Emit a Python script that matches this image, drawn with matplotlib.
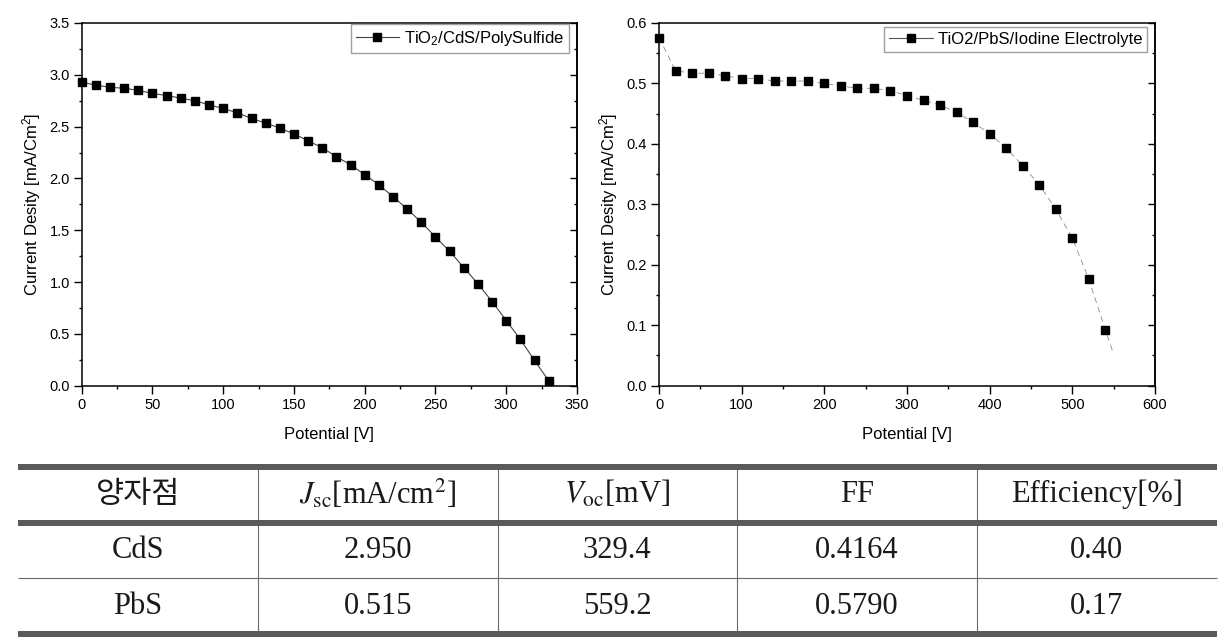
import matplotlib
matplotlib.use('Agg')
import matplotlib.pyplot as plt
from matplotlib.ticker import MultipleLocator
from matplotlib.lines import Line2D

plt.rcParams['font.family'] = ['Liberation Sans', 'DejaVu Sans']
plt.rcParams['mathtext.fontset'] = 'custom'
plt.rcParams['mathtext.rm'] = 'Liberation Sans'
plt.rcParams['mathtext.it'] = 'Liberation Sans:italic'
plt.rcParams['mathtext.bf'] = 'Liberation Sans:bold'

# ---------------- data ----------------
cds_v = [0, 10, 20, 30, 40, 50, 60, 70, 80, 90, 100, 110, 120, 130, 140, 150, 160,
         170, 180, 190, 200, 210, 220, 230, 240, 250, 260, 270, 280, 290, 300, 310, 320, 330]
cds_j = [2.929, 2.90, 2.88, 2.87, 2.85, 2.82, 2.80, 2.775, 2.75, 2.71, 2.675, 2.633,
         2.58, 2.534, 2.486, 2.43, 2.363, 2.296, 2.21, 2.132, 2.036, 1.94, 1.824, 1.705,
         1.577, 1.435, 1.297, 1.14, 0.983, 0.812, 0.629, 0.446, 0.244, 0.048]

pbs_v = [0, 20, 40, 60, 80, 100, 120, 140, 160, 180, 200, 220, 240, 260, 280, 300,
         320, 340, 360, 380, 400, 420, 440, 460, 480, 500, 520, 540]
pbs_j = [0.576, 0.521, 0.517, 0.517, 0.5125, 0.508, 0.508, 0.504, 0.504, 0.504, 0.500,
         0.496, 0.492, 0.492, 0.488, 0.480, 0.472, 0.4646, 0.452, 0.436, 0.4167, 0.393,
         0.364, 0.3325, 0.292, 0.244, 0.176, 0.092]
# fitted curve continues slightly past the last measured point
pbs_fit_v = pbs_v + [550]
pbs_fit_j = pbs_j + [0.052]

cds_label = r'TiO$_2$/CdS/PolySulfide'
pbs_label = 'TiO2/PbS/Iodine Electrolyte'
x_label = 'Potential [V]'
y_label = r'Current Desity [mA/Cm$^2$]'

table_headers = ['양자점', r'$J_{\mathrm{sc}}$[mA/cm$^{2}$]', r'$V_{\mathrm{oc}}$[mV]',
                 'FF', 'Efficiency[%]']
row_names = ['CdS', 'PbS']
jsc_vals = ['2.950', '0.515']
voc_vals = ['329.4', '559.2']
ff_vals = ['0.4164', '0.5790']
eff_vals = ['0.40', '0.17']

# ---------------- figure ----------------
W, H = 1229, 644
fig = plt.figure(figsize=(W / 100, H / 100), dpi=100)


def px_axes(x0, y0, x1, y1):
    return fig.add_axes([x0 / W, 1 - y1 / H, (x1 - x0) / W, (y1 - y0) / H])


def style(ax, xmax, xmaj, xmin, ymax, ymaj, ymin, yfmt):
    ax.set_xlim(0, xmax)
    ax.set_ylim(0, ymax)
    ax.xaxis.set_major_locator(MultipleLocator(xmaj))
    ax.xaxis.set_minor_locator(MultipleLocator(xmin))
    ax.yaxis.set_major_locator(MultipleLocator(ymaj))
    ax.yaxis.set_minor_locator(MultipleLocator(ymin))
    ax.yaxis.set_major_formatter(plt.FormatStrFormatter(yfmt))
    ax.tick_params(which='both', direction='out', top=False, right=False,
                   labelsize=10.5, width=1.0, pad=3)
    ax.tick_params(which='major', length=5.5)
    ax.tick_params(which='minor', length=2.5)
    for s in ax.spines.values():
        s.set_linewidth(1.1)
    sec = ax.secondary_yaxis('right')
    sec.yaxis.set_major_locator(MultipleLocator(ymaj))
    sec.yaxis.set_minor_locator(MultipleLocator(ymin))
    sec.tick_params(which='both', direction='in', labelright=False, width=1.0)
    sec.tick_params(which='major', length=5.0)
    sec.tick_params(which='minor', length=2.5)
    sec.spines['right'].set_linewidth(1.1)
    ax.set_xlabel(x_label, fontsize=12, labelpad=11)
    ax.set_ylabel(y_label, fontsize=12, labelpad=4.5)


# left panel
ax1 = px_axes(81.7, 23, 577, 385.7)
ax1.plot(cds_v, cds_j, color='#444444', lw=0.8, marker='s', ms=5.3,
         mfc='black', mec='black', label=cds_label, clip_on=False, zorder=3)
style(ax1, 350, 50, 25, 3.5, 0.5, 0.25, '%.1f')
leg1 = ax1.legend(loc='upper right', bbox_to_anchor=(0.984, 0.997), borderaxespad=0,
                  fontsize=12, frameon=True, fancybox=False, numpoints=1,
                  handlelength=2.6, handletextpad=0.3, borderpad=0.3)
leg1.get_frame().set_edgecolor('#888888')
leg1.get_frame().set_linewidth(1.0)

# right panel
ax2 = px_axes(659, 23, 1155, 385.7)
ax2.plot(pbs_fit_v, pbs_fit_j, color='#8a8a8a', lw=0.6, ls=(0, (7, 5)), zorder=2)
ax2.plot(pbs_v, pbs_j, ls='none', marker='s', ms=5.3, mfc='black', mec='black',
         clip_on=False, zorder=3)
style(ax2, 600, 100, 50, 0.6, 0.1, 0.05, '%.1f')
h2 = Line2D([], [], color='#555555', lw=0.8, marker='s', ms=5.3, mfc='black', mec='black')
leg2 = ax2.legend([h2], [pbs_label], loc='upper right', bbox_to_anchor=(0.984, 0.99),
                  borderaxespad=0, fontsize=12, frameon=True, fancybox=False,
                  numpoints=1, handlelength=2.6, handletextpad=0.3, borderpad=0.3)
leg2.get_frame().set_edgecolor('#888888')
leg2.get_frame().set_linewidth(1.0)

# ---------------- table ----------------
tax = fig.add_axes([0, 0, 1, 1], zorder=-1)
tax.set_xlim(0, W)
tax.set_ylim(H, 0)
tax.axis('off')

tx0, tx1 = 17.7, 1216.7
col_edges = [tx0, 258.3, 497.5, 737.0, 976.7, tx1]
y_top, y_head, y_mid, y_bot = 467.0, 522.5, 578.3, 633.5
thick = 6 * 0.72
thin_c = '#6a6a6a'
thick_c = '#5a5a5a'

for y in (y_top, y_head, y_bot):
    tax.hlines(y, tx0, tx1, colors=thick_c, lw=thick, zorder=3)
tax.hlines(y_mid, tx0, tx1, colors=thin_c, lw=0.8, zorder=2)
for x in col_edges[1:-1]:
    tax.vlines(x, y_top, y_bot, colors=thin_c, lw=0.8, zorder=2)

centers = [(col_edges[i] + col_edges[i + 1]) / 2 for i in range(5)]
row_y = [494.5, 550.5, 606.0]
tcolor = '#1a1a1a'
serif = ['Liberation Serif', 'DejaVu Serif']

for i, h in enumerate(table_headers):
    if i == 0:
        tax.text(centers[i], row_y[0], h, ha='center', va='center', fontsize=22,
                 family=['Noto Sans CJK KR', 'DejaVu Sans'], color=tcolor,
                 fontweight='light')
    else:
        tax.text(centers[i], row_y[0], h, ha='center', va='center', fontsize=22,
                 family=serif, color=tcolor, math_fontfamily='stix')

cols = [row_names, jsc_vals, voc_vals, ff_vals, eff_vals]
for r in range(2):
    for c in range(5):
        tax.text(centers[c], row_y[r + 1], cols[c][r], ha='center', va='center',
                 fontsize=22, family=serif, color=tcolor)

fig.savefig('out.png', dpi=100)
